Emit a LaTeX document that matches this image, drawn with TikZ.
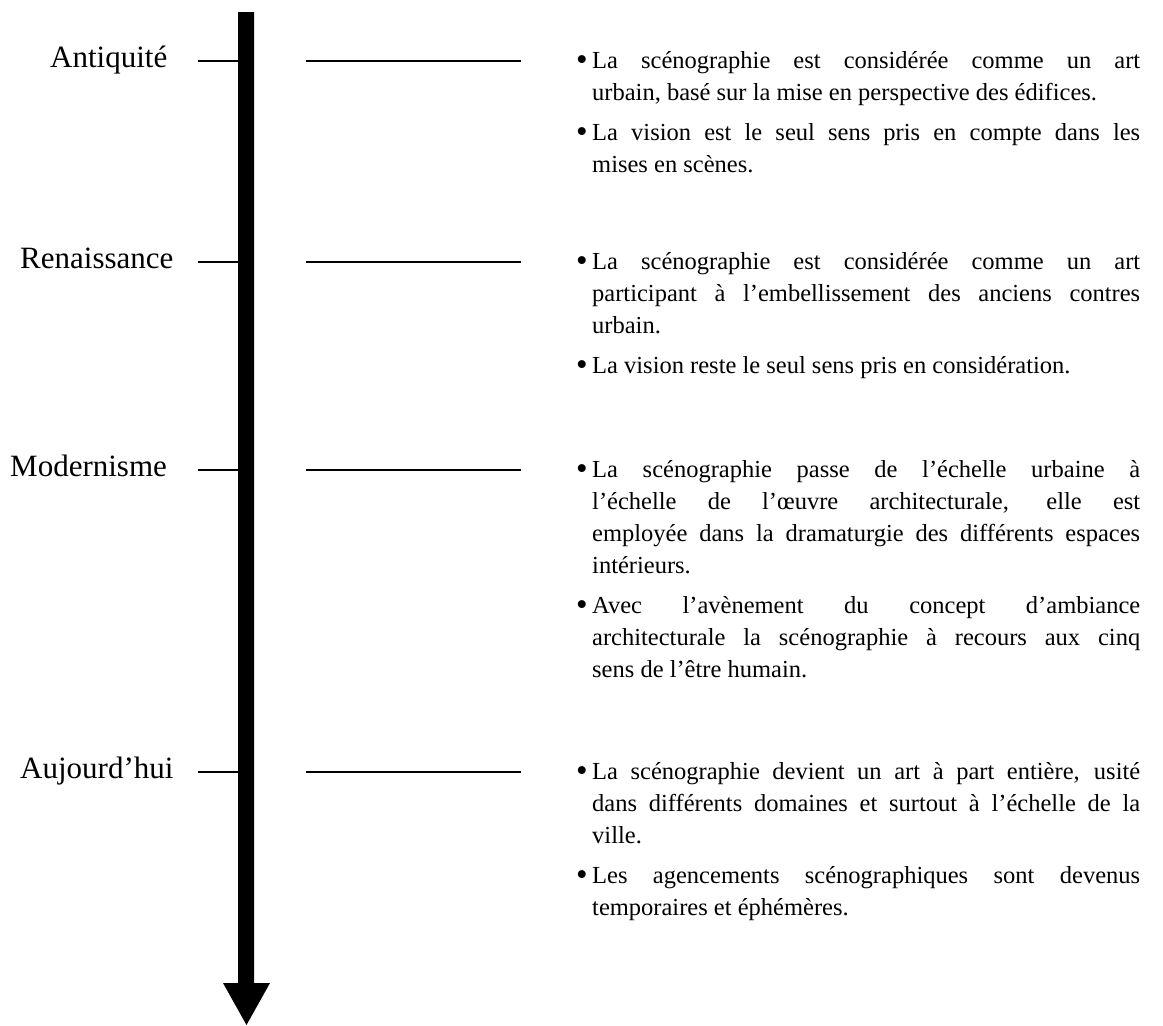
\documentclass[tikz,border=0pt]{standalone}
\usepackage{fontspec}
\usepackage{graphicx}
\setmainfont{Liberation Serif}
\newcommand\bmark{\makebox[16pt][l]{\raisebox{-2.2pt}{\scalebox{1.35}{•}}}}
\newcommand\bfl[1]{\hbox{\bmark\makebox[548pt][s]{#1}}}
\newcommand\bone[1]{\hbox{\bmark#1}}
\newcommand\jln[1]{\hbox{\hspace*{16pt}\makebox[548pt][s]{#1}}}
\newcommand\lastln[1]{\hbox{\hspace*{16pt}#1}}
\newcommand\bgap{\vskip8pt}
\begin{document}
\begin{tikzpicture}[x=1pt,y=-1pt,
  tickline/.style={line width=1.5pt},
  period/.style={anchor=base west, inner sep=0pt, font=\fontsize{31}{36}\selectfont},
  desc/.style={anchor=base west, inner sep=0pt, font=\fontsize{24.5}{32}\selectfont}]
\useasboundingbox (0,0) rectangle (1163,1026);
% timeline arrow
\fill (238,12) -- (254,12) -- (254,983) -- (270,983) -- (246.5,1025) -- (223,983) -- (238,983) -- cycle;
% Antiquite
\node[period] (p1) at (50,67) {Antiquité};
\coordinate (p1a) at (198,61); \coordinate (p1b) at (246,61);
\coordinate (p1c) at (306,61); \coordinate (p1d) at (521,61);
\draw[tickline] (p1a) -- (p1b);
\draw[tickline] (p1c) -- (p1d);
\node[desc] (d1) at (576,68) {\vtop{%
  \bfl{La scénographie est considérée comme un art}
  \lastln{urbain, basé sur la mise en perspective des édifices.}
  \bgap
  \bfl{La vision est le seul sens pris en compte dans les}
  \lastln{mises en scènes.}}};
% Renaissance
\node[period] (p2) at (20,268) {Renaissance};
\coordinate (p2a) at (198,262); \coordinate (p2b) at (246,262);
\coordinate (p2c) at (306,262); \coordinate (p2d) at (521,262);
\draw[tickline] (p2a) -- (p2b);
\draw[tickline] (p2c) -- (p2d);
\node[desc] (d2) at (576,269) {\vtop{%
  \bfl{La scénographie est considérée comme un art}
  \jln{participant à l’embellissement des anciens contres}
  \lastln{urbain.}
  \bgap
  \bone{La vision reste le seul sens pris en considération.}}};
% Modernisme
\node[period] (p3) at (10,476) {Modernisme};
\coordinate (p3a) at (198,470); \coordinate (p3b) at (246,470);
\coordinate (p3c) at (306,470); \coordinate (p3d) at (521,470);
\draw[tickline] (p3a) -- (p3b);
\draw[tickline] (p3c) -- (p3d);
\node[desc] (d3) at (576,477) {\vtop{%
  \bfl{La scénographie passe de l’échelle urbaine à}
  \jln{l’échelle de l’œuvre architecturale, elle est}
  \jln{employée dans la dramaturgie des différents espaces}
  \lastln{intérieurs.}
  \bgap
  \bfl{Avec l’avènement du concept d’ambiance}
  \jln{architecturale la scénographie à recours aux cinq}
  \lastln{sens de l’être humain.}}};
% Aujourd'hui
\node[period] (p4) at (20,778) {Aujourd’hui};
\coordinate (p4a) at (198,772); \coordinate (p4b) at (246,772);
\coordinate (p4c) at (306,772); \coordinate (p4d) at (521,772);
\draw[tickline] (p4a) -- (p4b);
\draw[tickline] (p4c) -- (p4d);
\node[desc] (d4) at (576,779) {\vtop{%
  \bfl{La scénographie devient un art à part entière, usité}
  \jln{dans différents domaines et surtout à l’échelle de la}
  \lastln{ville.}
  \bgap
  \bfl{Les agencements scénographiques sont devenus}
  \lastln{temporaires et éphémères.}}};
\end{tikzpicture}
\end{document}
